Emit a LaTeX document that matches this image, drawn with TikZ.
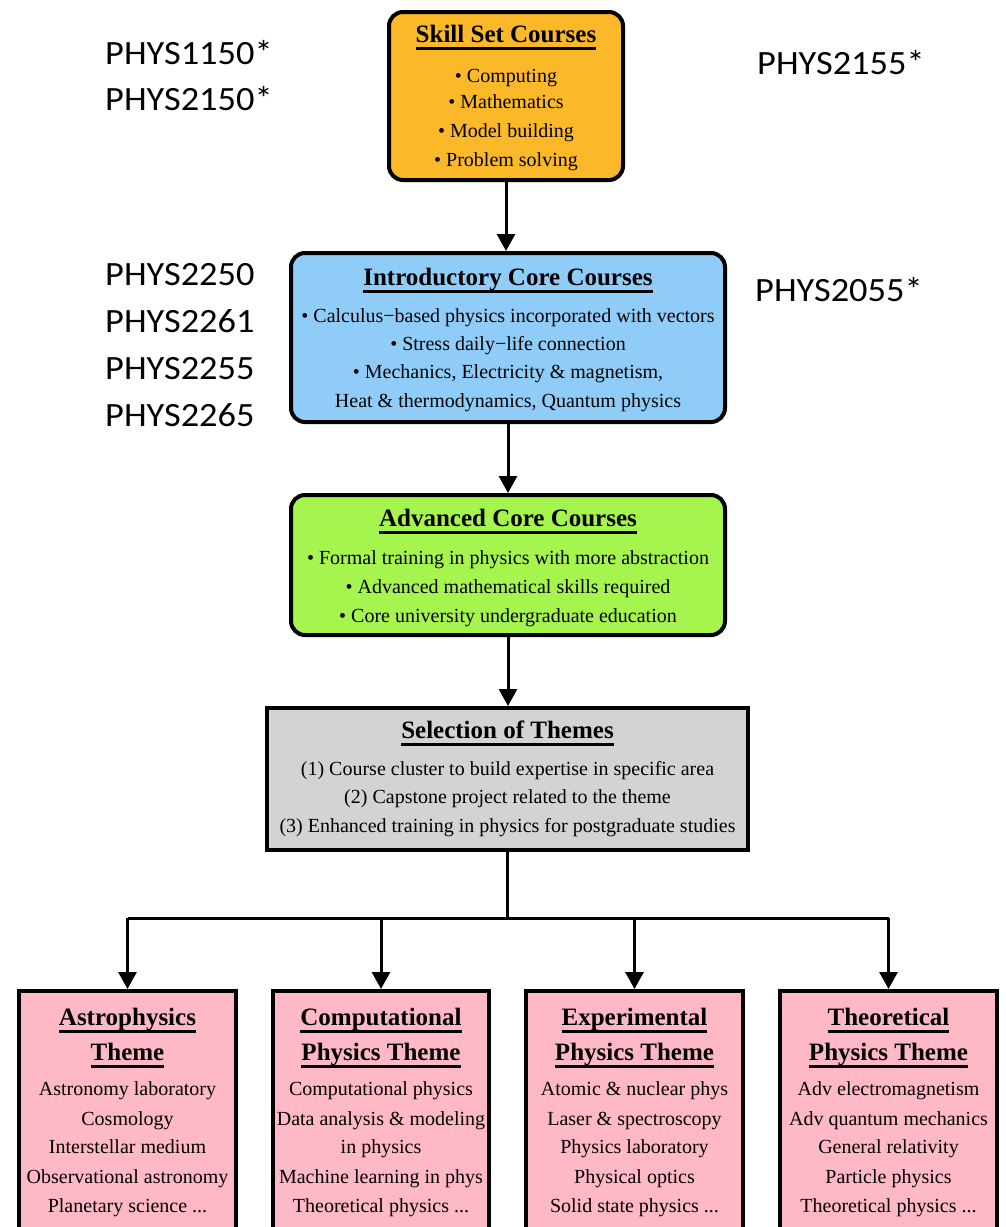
\documentclass[tikz,border=0pt]{standalone}
\usepackage{fontspec}
\usepackage{graphicx}
\setmainfont{Liberation Serif}
\newfontfamily\calfont{Carlito}
\usetikzlibrary{arrows.meta}
\definecolor{cskill}{HTML}{FBB829}
\definecolor{cintro}{HTML}{8FCDF8}
\definecolor{cadv}{HTML}{A6F44E}
\definecolor{csel}{HTML}{D3D3D3}
\definecolor{ctheme}{HTML}{FFB8C6}
\newcommand\ult[1]{\setbox0\hbox{#1}\dp0=0pt\vtop{\copy0\kern5pt\hrule height 3pt}}
\newcommand\phys[1]{\scalebox{1.07}[1]{#1}}
\newcommand\tdots{...}
\tikzset{
  boxbase/.style={draw=black, line width=4pt, inner sep=0pt},
  rbox/.style={boxbase, rounded corners=14pt},
  tt/.style={anchor=base, inner sep=0pt, font=\fontsize{25}{28}\selectfont\bfseries},
  tx/.style={anchor=base, inner sep=0pt, font=\fontsize{20}{24}\selectfont},
  lbl/.style={anchor=base west, inner sep=0pt, font=\calfont\fontsize{34}{38}\selectfont},
  conn/.style={line width=3pt},
  arr/.style={line width=3pt, -{Triangle[length=17pt,width=18pt]}}
}
\begin{document}
\begin{tikzpicture}[x=1pt,y=-1pt]
\useasboundingbox (0,0) rectangle (1005,1227);
\fill[white] (0,0) rectangle (1005,1227);

% boxes
\node[rbox, fill=cskill, minimum width=234pt, minimum height=168pt] (skill) at (506,96) {};
\node[rbox, fill=cintro, minimum width=434pt, minimum height=169pt] (intro) at (508,337.5) {};
\node[rbox, fill=cadv, minimum width=434pt, minimum height=140pt] (adv) at (508,565) {};
\node[boxbase, fill=csel, minimum width=481pt, minimum height=142pt] (sel) at (507.5,779) {};
\node[boxbase, fill=ctheme, minimum width=217pt, minimum height=258pt] (t1) at (127.5,1120) {};
\node[boxbase, fill=ctheme, minimum width=216pt, minimum height=258pt] (t2) at (381,1120) {};
\node[boxbase, fill=ctheme, minimum width=217pt, minimum height=258pt] (t3) at (634.5,1120) {};
\node[boxbase, fill=ctheme, minimum width=217pt, minimum height=258pt] (t4) at (888.5,1120) {};

% skill text
\node[tt] (s0) at (506,42) {\ult{Skill Set Courses}};
\node[tx] (s1) at (506,82) {• Computing};
\node[tx] (s2) at (506,108) {• Mathematics};
\node[tx] (s3) at (506,137) {• Model building};
\node[tx] (s4) at (506,166) {• Problem solving};

% intro text
\node[tt] (i0) at (508,285) {\ult{Introductory Core Courses}};
\node[tx] (i1) at (508,322) {• Calculus−based physics incorporated with vectors};
\node[tx] (i2) at (508,350) {• Stress daily−life connection};
\node[tx] (i3) at (508,378) {• Mechanics, Electricity \& magnetism,};
\node[tx] (i4) at (508,407) {Heat \& thermodynamics, Quantum physics};

% advanced text
\node[tt] (a0) at (508,526) {\ult{Advanced Core Courses}};
\node[tx] (a1) at (508,564) {• Formal training in physics with more abstraction};
\node[tx] (a2) at (508,593) {• Advanced mathematical skills required};
\node[tx] (a3) at (508,622) {• Core university undergraduate education};

% selection text
\node[tt] (e0) at (507.5,738) {\ult{Selection of Themes}};
\node[tx] (e1) at (507.5,775) {(1) Course cluster to build expertise in specific area};
\node[tx] (e2) at (507.5,803) {(2) Capstone project related to the theme};
\node[tx] (e3) at (507.5,832) {(3) Enhanced training in physics for postgraduate studies};

% theme texts
\foreach \cx/\n/\ta/\tb/\la/\lb/\lc/\ld/\le in {
  127.5/1/Astrophysics/Theme/Astronomy laboratory/Cosmology/Interstellar medium/Observational astronomy/Planetary science \tdots,
  381/2/Computational/Physics Theme/Computational physics/Data analysis \& modeling/in physics/Machine learning in phys/Theoretical physics \tdots,
  634.5/3/Experimental/Physics Theme/Atomic \& nuclear phys/Laser \& spectroscopy/Physics laboratory/Physical optics/Solid state physics \tdots,
  888.5/4/Theoretical/Physics Theme/Adv electromagnetism/Adv quantum mechanics/General relativity/Particle physics/Theoretical physics \tdots}{
  \node[tt] (h\n a) at (\cx,1025) {\ult{\ta}};
  \node[tt] (h\n b) at (\cx,1060) {\ult{\tb}};
  \node[tx] (h\n c) at (\cx,1095) {\la};
  \node[tx] (h\n d) at (\cx,1125) {\lb};
  \node[tx] (h\n e) at (\cx,1153) {\lc};
  \node[tx] (h\n f) at (\cx,1183) {\ld};
  \node[tx] (h\n g) at (\cx,1212) {\le};
}

% course code labels
\node[lbl] (p1) at (105,64) {\phys{PHYS1150*}};
\node[lbl] (p2) at (105,110) {\phys{PHYS2150*}};
\node[lbl] (p3) at (757,74) {\phys{PHYS2155*}};
\node[lbl] (p4) at (105,285) {\phys{PHYS2250}};
\node[lbl] (p5) at (105,332) {\phys{PHYS2261}};
\node[lbl] (p6) at (105,379) {\phys{PHYS2255}};
\node[lbl] (p7) at (105,426) {\phys{PHYS2265}};
\node[lbl] (p8) at (755,301) {\phys{PHYS2055*}};

% connectors
\draw[arr] (skill.south) -- (intro.north -| skill.south);
\draw[arr] (intro.south) -- (adv.north);
\draw[arr] (adv.south) -- (sel.north -| adv.south);
\coordinate (j) at (507.5,918);
\draw[conn] (sel.south) -- (j);
\draw[conn] (j -| t1.north) -- (j -| t4.north);
\draw[arr] (j -| t1.north) -- (t1.north);
\draw[arr] (j -| t2.north) -- (t2.north);
\draw[arr] (j -| t3.north) -- (t3.north);
\draw[arr] (j -| t4.north) -- (t4.north);
\end{tikzpicture}
\end{document}
